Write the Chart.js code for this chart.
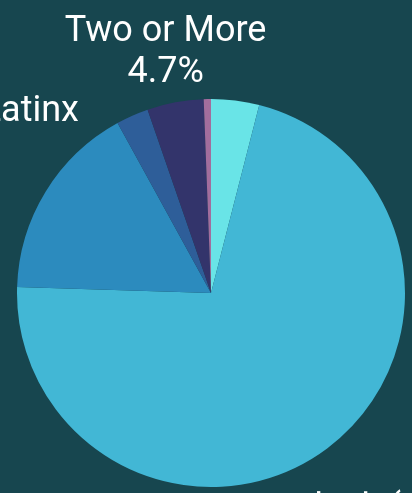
<!DOCTYPE html>
<html>
<head>
<meta charset="utf-8">
<script src="https://cdn.jsdelivr.net/npm/chart.js@4.4.1/dist/chart.umd.min.js"></script>
<style>
  html, body { margin: 0; padding: 0; background: #17464f; overflow: hidden; }
  #wrap { width: 412px; height: 493px; position: relative; }
</style>
</head>
<body>
<div id="wrap"><canvas id="pieChart"></canvas></div>
<script>
// --- DATA ---
const groups = ['Asian', 'Black', 'Latinx', 'White', 'Two or More', 'Native American'];
const shares = [4.0, 71.5, 16.5, 2.7, 4.7, 0.6];
const sliceColors = ['#69e4e7', '#42b7d5', '#2c8bbe', '#2e5e99', '#33346b', '#a26d9d'];

// labels that show on the picture (rest fall outside or are hidden)
const labelLines = {
    1: ['Black (' + shares[1] + '%)'],
    2: ['Hispanic/Latinx'],
    4: ['Two or More', shares[4] + '%']
};
// label placement: radial factor, nudge, alignment
const labelStyle = {
    1: { k: 1.27, dx: -67, dy: 20, align: 'left' },
    2: { k: 1.27, dx: 78, dy: -52, align: 'right' },
    4: { k: 1.27, dx: 0, dy: 2, align: 'center' }
};

const outLabels = {
    id: 'outLabels',
    afterDatasetsDraw(chart) {
        const ctx = chart.ctx;
        const meta = chart.getDatasetMeta(0);
        ctx.save();
        ctx.fillStyle = '#ffffff';
        ctx.font = '400 36px Roboto, "Open Sans", sans-serif';
        ctx.textBaseline = 'middle';
        Object.keys(labelLines).forEach(key => {
            const i = Number(key);
            const arc = meta.data[i];
            const p = arc.getProps(['x', 'y', 'startAngle', 'endAngle', 'outerRadius'], true);
            const st = labelStyle[i];
            const mid = (p.startAngle + p.endAngle) / 2;
            const lx = p.x + Math.cos(mid) * p.outerRadius * st.k + st.dx;
            const ly = p.y + Math.sin(mid) * p.outerRadius * st.k + st.dy;
            const lines = labelLines[i];
            const lh = 41;
            ctx.textAlign = st.align;
            lines.forEach((t, j) => {
                ctx.fillText(t, lx, ly + (j - (lines.length - 1) / 2) * lh);
            });
        });
        ctx.restore();
    }
};

function initChart() {
    const el = document.getElementById('pieChart');
    new Chart(el.getContext('2d'), {
        type: 'pie',
        data: {
            labels: groups,
            datasets: [{
                data: shares,
                backgroundColor: sliceColors,
                borderWidth: 0
            }]
        },
        options: {
            responsive: true,
            maintainAspectRatio: false,
            animation: false,
            layout: { padding: { left: 17, right: 7, top: 99, bottom: 6 } },
            plugins: {
                legend: { display: false },
                tooltip: { enabled: false }
            }
        },
        plugins: [outLabels]
    });
}

document.addEventListener('DOMContentLoaded', () => {
    initChart();
});
</script>
</body>
</html>
